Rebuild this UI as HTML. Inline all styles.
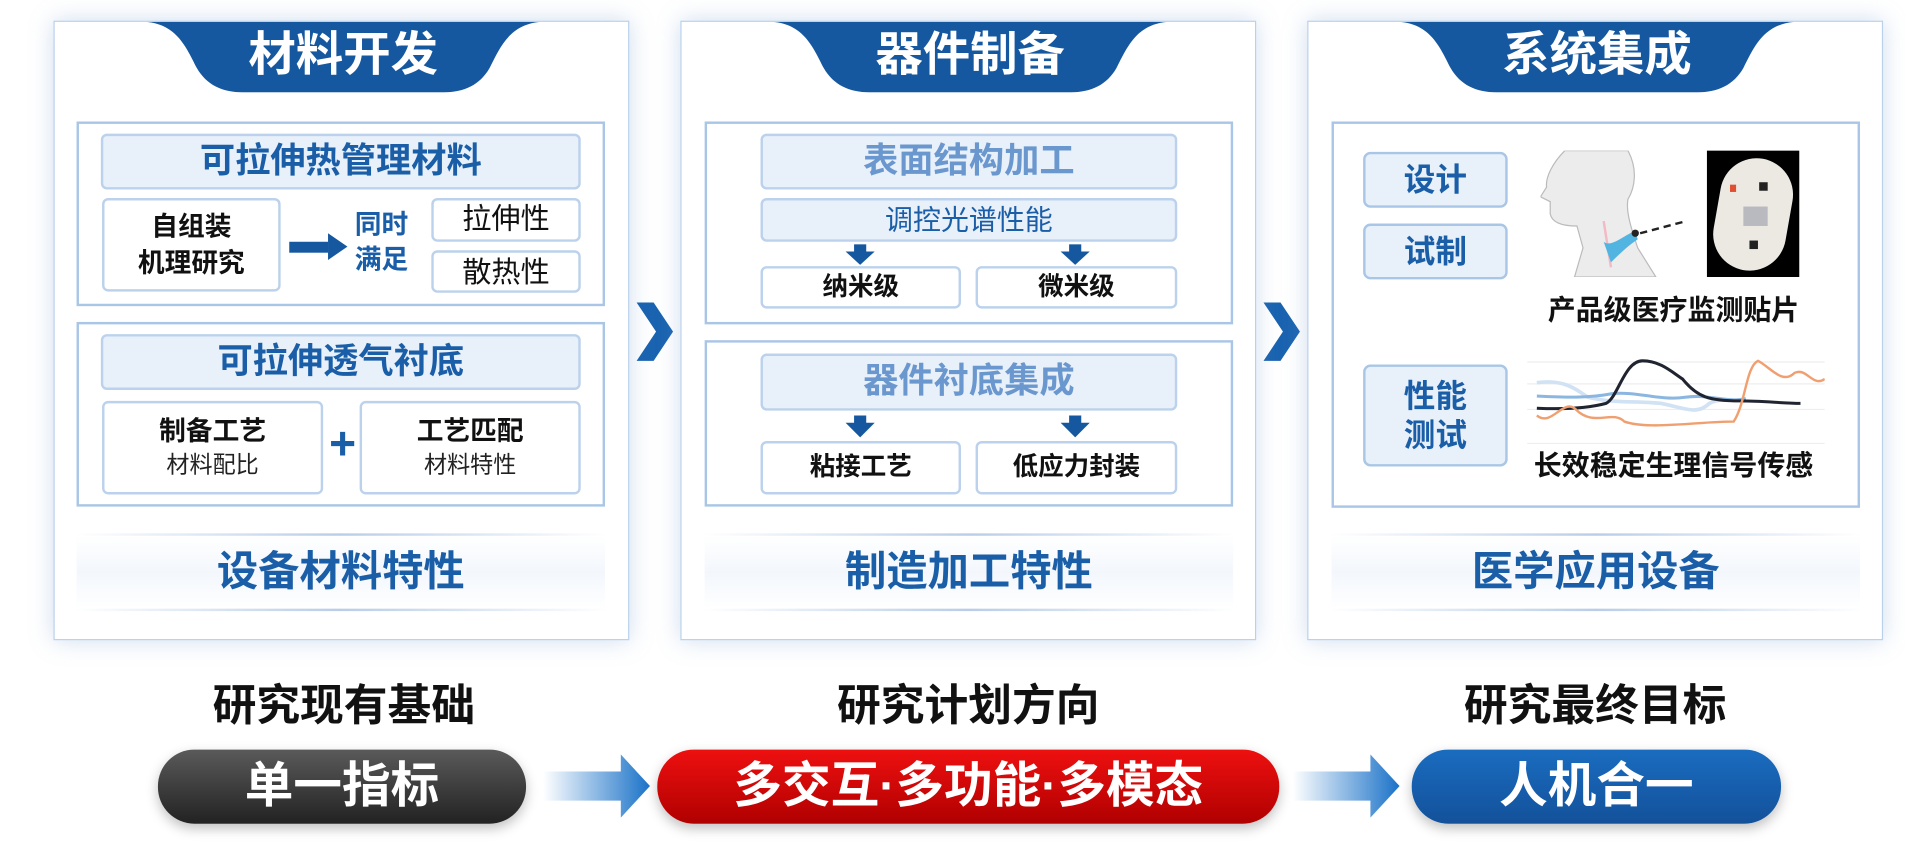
<!DOCTYPE html>
<html><head><meta charset="utf-8">
<style>
html,body{margin:0;padding:0;background:#fff;width:1905px;height:856px;overflow:hidden}
#s{position:absolute;left:0;top:0;width:1568px;height:705px;transform:scale(1.2149);transform-origin:0 0;font-family:"Liberation Sans","Noto Sans CJK SC",sans-serif}
.a{position:absolute;box-sizing:border-box}
.panel{border:1.5px solid #b9d1ec;background:#fff;box-shadow:0 0 18px rgba(120,160,210,.35)}
.tabt{color:#fff;font-weight:bold;font-size:39px;text-align:center;line-height:58px}
.box{border:2px solid #a9c6e6;background:#fff}
.hd{border:2px solid #bcd2ec;border-radius:5px;background:#e8f0fa;color:#1a5ea8;font-weight:bold;font-size:29px;text-align:center}
.hl{color:#6b97cf}
.sb{border:2px solid #bcd2ec;border-radius:5px;background:#fff;text-align:center;color:#111}
.b{font-weight:bold}
.band{background:linear-gradient(#fff,#f3f7fc 50%,#fff);border-top:2px solid;border-bottom:2px solid;border-image:linear-gradient(90deg,rgba(200,215,235,0),#b8cde8 50%,rgba(200,215,235,0)) 1;color:#1a5ea8;font-weight:bold;font-size:34px;text-align:center;line-height:60px}
.lbl{font-weight:bold;font-size:36px;color:#111;text-align:center;width:300px}
.pill{border-radius:30px;color:#fff;font-weight:bold;font-size:40px;text-align:center;line-height:60px;box-shadow:0 4px 10px rgba(0,0,0,.25)}
.btn{border:2px solid #a9c6e6;border-radius:6px;background:#e8f0fa;color:#1a5ea8;font-weight:bold;font-size:26px;text-align:center}
</style></head><body><div id="s">
<svg width="0" height="0" style="position:absolute"><defs><linearGradient id="g" x1="0" x2="1"><stop offset="0" stop-color="#fff"/><stop offset="1" stop-color="#1a72c8"/></linearGradient>
<symbol id="tab" viewBox="0 0 325 58"><path d="M0,0 L325,0 C300,2 292,20 283,38 C275,52 262,58 245,58 L80,58 C63,58 50,52 42,38 C33,20 25,2 0,0 Z" fill="#16589f"/></symbol></defs></svg>

<!-- Panel 1 -->
<div class="a panel" style="left:44px;top:17px;width:474px;height:510px"></div>
<svg class="a" style="left:120px;top:18px" width="325" height="58"><use href="#tab"/></svg>
<div class="a tabt" style="left:120px;top:17px;width:325px;height:58px">材料开发</div>
<div class="a box" style="left:63px;top:100px;width:435px;height:152px"></div>
<div class="a hd" style="left:83px;top:110px;width:395px;height:46px;line-height:42px">可拉伸热管理材料</div>
<div class="a sb b" style="left:84px;top:163px;width:147px;height:77px;font-size:22px;line-height:30px;padding-top:7px">自组装<br>机理研究</div>
<svg class="a" style="left:238px;top:190px" width="52" height="26"><rect x="0" y="9" width="32" height="9" fill="#16589f"/><polygon points="32,2 48,13 32,24" fill="#16589f"/></svg>
<div class="a b" style="left:292px;top:170px;width:52px;font-size:22px;line-height:29px;color:#1a5ea8">同时<br>满足</div>
<div class="a sb" style="left:355px;top:163px;width:123px;height:36px;font-size:24px;line-height:32px">拉伸性</div>
<div class="a sb" style="left:355px;top:206px;width:123px;height:35px;font-size:24px;line-height:33px">散热性</div>

<div class="a box" style="left:63px;top:265px;width:435px;height:152px"></div>
<div class="a hd" style="left:83px;top:275px;width:395px;height:46px;line-height:42px">可拉伸透气衬底</div>
<div class="a sb" style="left:84px;top:330px;width:182px;height:77px;padding-top:7px"><div class="b" style="font-size:22px;line-height:31px">制备工艺</div><div style="font-size:19px;line-height:28px;color:#222">材料配比</div></div>
<div class="a b" style="left:268px;top:345px;width:28px;text-align:center;font-size:38px;color:#1a5ea8;line-height:42px">+</div>
<div class="a sb" style="left:296px;top:330px;width:182px;height:77px;padding-top:7px"><div class="b" style="font-size:22px;line-height:31px">工艺匹配</div><div style="font-size:19px;line-height:28px;color:#222">材料特性</div></div>
<div class="a band" style="left:63px;top:439px;width:435px;height:64px">设备材料特性</div>

<!-- chevrons -->
<svg class="a" style="left:521px;top:247px" width="40" height="52"><polygon points="3,2 17,2 33,26 17,50 3,50 19,26" fill="#1a63b0"/></svg>
<svg class="a" style="left:1037px;top:247px" width="40" height="52"><polygon points="3,2 17,2 33,26 17,50 3,50 19,26" fill="#1a63b0"/></svg>

<!-- Panel 2 -->
<div class="a panel" style="left:560px;top:17px;width:474px;height:510px"></div>
<svg class="a" style="left:636px;top:18px" width="325" height="58"><use href="#tab"/></svg>
<div class="a tabt" style="left:636px;top:17px;width:325px;height:58px">器件制备</div>
<div class="a box" style="left:580px;top:100px;width:435px;height:167px"></div>
<div class="a hd hl" style="left:626px;top:110px;width:343px;height:46px;line-height:42px">表面结构加工</div>
<div class="a hd" style="left:626px;top:163px;width:343px;height:36px;line-height:32px;font-weight:normal;font-size:23px">调控光谱性能</div>
<svg class="a" style="left:696px;top:201px" width="24" height="17"><rect x="7" y="0" width="10" height="7" fill="#16589f"/><polygon points="0,6 24,6 12,17" fill="#16589f"/></svg>
<svg class="a" style="left:873px;top:201px" width="24" height="17"><rect x="7" y="0" width="10" height="7" fill="#16589f"/><polygon points="0,6 24,6 12,17" fill="#16589f"/></svg>
<div class="a sb b" style="left:626px;top:219px;width:165px;height:35px;font-size:21px;line-height:31px">纳米级</div>
<div class="a sb b" style="left:803px;top:219px;width:166px;height:35px;font-size:21px;line-height:31px">微米级</div>

<div class="a box" style="left:580px;top:280px;width:435px;height:137px"></div>
<div class="a hd hl" style="left:626px;top:291px;width:343px;height:47px;line-height:43px">器件衬底集成</div>
<svg class="a" style="left:696px;top:342px" width="24" height="18"><rect x="7" y="0" width="10" height="7" fill="#16589f"/><polygon points="0,6 24,6 12,18" fill="#16589f"/></svg>
<svg class="a" style="left:873px;top:342px" width="24" height="18"><rect x="7" y="0" width="10" height="7" fill="#16589f"/><polygon points="0,6 24,6 12,18" fill="#16589f"/></svg>
<div class="a sb b" style="left:626px;top:363px;width:165px;height:44px;font-size:21px;line-height:40px">粘接工艺</div>
<div class="a sb b" style="left:803px;top:363px;width:166px;height:44px;font-size:21px;line-height:40px">低应力封装</div>
<div class="a band" style="left:580px;top:439px;width:435px;height:64px">制造加工特性</div>

<!-- Panel 3 -->
<div class="a panel" style="left:1076px;top:17px;width:474px;height:510px"></div>
<svg class="a" style="left:1152px;top:18px" width="325" height="58"><use href="#tab"/></svg>
<div class="a tabt" style="left:1152px;top:17px;width:325px;height:58px">系统集成</div>
<div class="a box" style="left:1096px;top:100px;width:435px;height:318px"></div>
<div class="a btn" style="left:1122px;top:125px;width:119px;height:46px;line-height:42px">设计</div>
<div class="a btn" style="left:1122px;top:184px;width:119px;height:46px;line-height:42px">试制</div>
<div class="a btn" style="left:1122px;top:300px;width:119px;height:84px;line-height:32px;padding-top:8px">性能<br>测试</div>
<svg class="a" style="left:1268px;top:124px" width="125" height="104">
<path d="M20,0 C10,10 4,22 5,30 L0,38 L8,42 L8,52 C10,62 25,62 30,62 L35,80 L28,104 L95,104 L80,80 C75,65 70,50 72,40 C78,30 80,15 72,0 Z" fill="#ececec" stroke="#bbb"/>
<path d="M52,58 L58,96" stroke="#f3b9c6" stroke-width="2"/>
<path d="M52,75 C58,80 68,70 78,66 L80,73 C72,78 62,88 58,92 Z" fill="#52b4e0"/>
<circle cx="78" cy="68" r="3" fill="#222"/>
<path d="M82,68 L120,58" stroke="#222" stroke-width="2" stroke-dasharray="6,4"/>
</svg>
<div class="a" style="left:1405px;top:124px;width:76px;height:104px;background:#000"></div>
<div class="a" style="left:1413px;top:130px;width:60px;height:93px;background:#ece8e2;border-radius:30px;transform:rotate(10deg)"></div>
<div class="a" style="left:1435px;top:170px;width:20px;height:16px;background:#b9b9c0"></div>
<div class="a" style="left:1448px;top:150px;width:7px;height:7px;background:#222"></div>
<div class="a" style="left:1440px;top:198px;width:7px;height:7px;background:#222"></div>
<div class="a" style="left:1424px;top:152px;width:5px;height:6px;background:#e05030"></div>
<div class="a b" style="left:1245px;top:236px;width:265px;text-align:center;font-size:23px;color:#111">产品级医疗监测贴片</div>
<svg class="a" style="left:1257px;top:292px" width="245" height="75">
<g stroke="#eee" stroke-width="1"><line x1="0" y1="6" x2="245" y2="6"/><line x1="0" y1="24" x2="245" y2="24"/><line x1="0" y1="45" x2="245" y2="45"/><line x1="0" y1="73" x2="245" y2="73"/></g>
<path d="M8,23 C30,20 40,28 50,35 C70,40 90,38 110,40 C130,44 140,50 150,40 C160,35 170,38 180,38" stroke="#d0e2f4" stroke-width="3" fill="none"/>
<path d="M8,34 C30,35 50,36 70,32 C90,30 110,38 130,35 C150,32 165,40 180,36" stroke="#8bb6e0" stroke-width="2.5" fill="none"/>
<path d="M8,44 C30,45 50,44 65,40 C75,35 80,5 95,5 C110,5 120,15 128,20 C140,35 150,38 175,38 C195,38 210,40 225,40" stroke="#1f2430" stroke-width="2.5" fill="none"/>
<path d="M8,50 C20,60 30,35 40,45 C55,60 70,45 80,55 C100,62 140,55 170,55 C180,40 180,10 190,5 C200,10 210,25 220,15 C230,10 235,27 245,20" stroke="#f0a070" stroke-width="2" fill="none"/>
</svg>
<div class="a b" style="left:1245px;top:364px;width:265px;text-align:center;font-size:23px;color:#111">长效稳定生理信号传感</div>
<div class="a band" style="left:1096px;top:439px;width:435px;height:64px">医学应用设备</div>

<!-- bottom -->
<div class="a lbl" style="left:133px;top:552px">研究现有基础</div>
<div class="a lbl" style="left:647px;top:552px">研究计划方向</div>
<div class="a lbl" style="left:1163px;top:552px">研究最终目标</div>

<div class="a pill" style="left:130px;top:617px;width:303px;height:61px;background:linear-gradient(#5a5a5a,#222)">单一指标</div>
<div class="a pill" style="left:541px;top:617px;width:512px;height:61px;background:linear-gradient(#ee1010,#b00000)">多交互·多功能·多模态</div>
<div class="a pill" style="left:1162px;top:617px;width:304px;height:61px;background:linear-gradient(#1a6cc0,#13519a)">人机合一</div>

<svg class="a" style="left:447px;top:621px" width="90" height="52"><polygon points="0,14 64,14 64,0 88,26 64,52 64,38 0,38" fill="url(#g)"/></svg>
<svg class="a" style="left:1064px;top:621px" width="90" height="52"><polygon points="0,14 64,14 64,0 88,26 64,52 64,38 0,38" fill="url(#g)"/></svg>

</div></body></html>
